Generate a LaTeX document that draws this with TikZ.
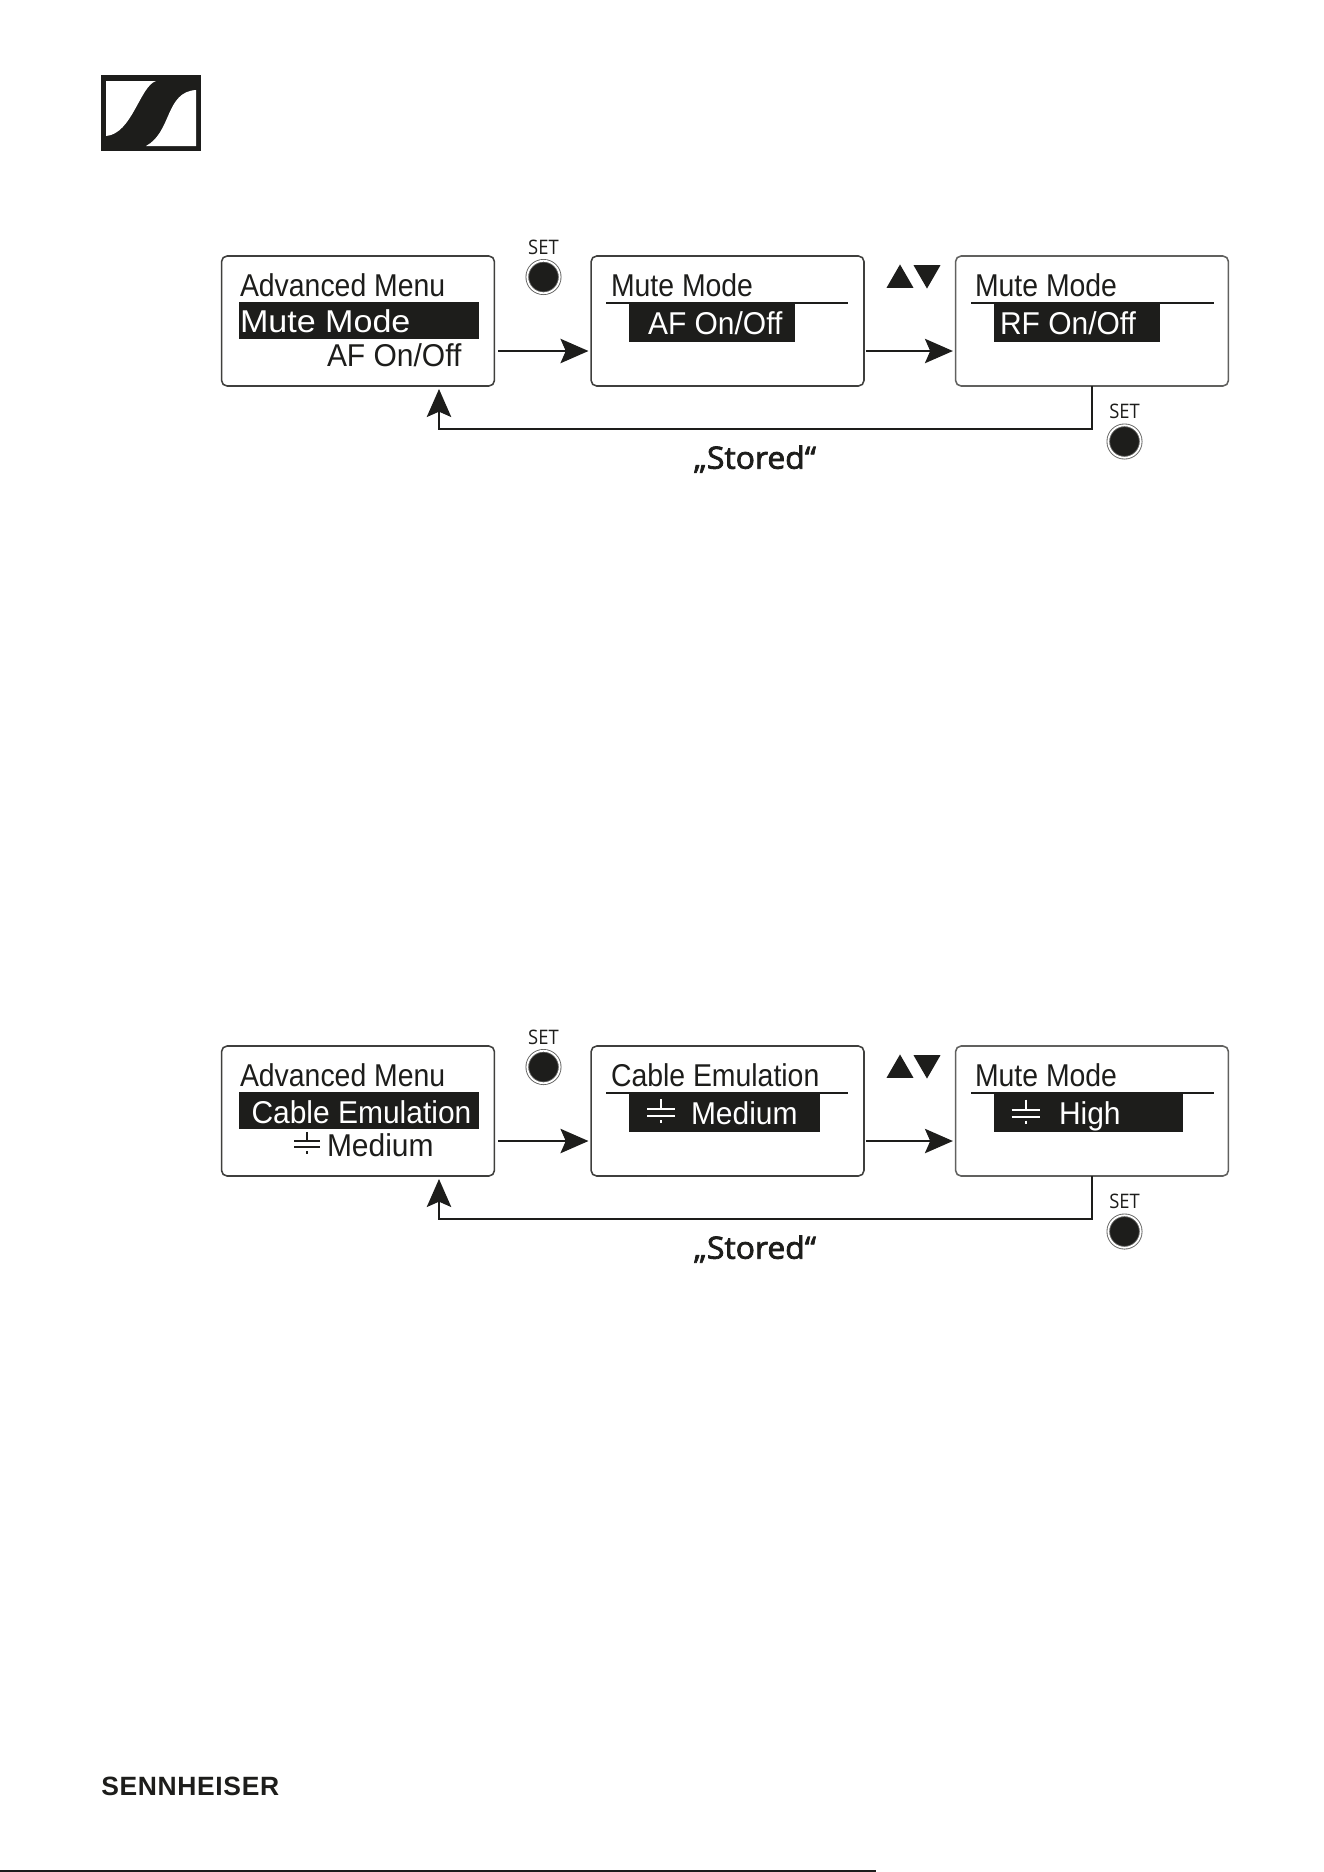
\documentclass[tikz,border=0pt]{standalone}
\usepackage{fontspec}
\usetikzlibrary{arrows.meta,shapes.geometric}
\newfontfamily\lcdfont[FakeStretch=0.90]{Liberation Sans}
\newfontfamily\lcdplain[FakeStretch=0.95]{Liberation Sans}
\newfontfamily\lcdwide[FakeStretch=1.08]{Liberation Sans}
\newfontfamily\capfont[FakeStretch=0.92]{Open Sans}
\newfontfamily\savedfont[FakeBold=2.5,FakeStretch=1.04]{Open Sans}
\newfontfamily\brandfont[LetterSpace=2.5]{Liberation Sans}
\definecolor{ink}{HTML}{1D1D1B}
\tikzset{
  screen/.style={draw=ink!85,rounded corners=2.5pt,line width=0.7pt,fill=white,
    minimum width=122.8pt,minimum height=58.5pt,inner sep=0pt,outer sep=0pt},
  label/.style={anchor=base west,inner sep=0pt,outer sep=0pt,text=ink,
    font=\fontsize{14.2}{16}\lcdfont},
  bar/.style={fill=ink,inner sep=0pt,outer sep=0pt},
  rule/.style={fill=ink,inner sep=0pt,outer sep=0pt,minimum height=0.8pt,minimum width=109.3pt},
  setknob/.style={circle,draw=ink!70,double=white,line width=0.4pt,double distance=0.8pt,
    fill=ink,minimum size=14.6pt,inner sep=0pt},
  setlabel/.style={inner sep=0pt,text=ink,font=\fontsize{9}{10}\capfont},
  updown/.style={regular polygon,regular polygon sides=3,fill=ink,minimum size=14pt,
    inner sep=0pt,outer sep=0pt},
  saved/.style={inner sep=0pt,text=ink,font=\fontsize{13.8}{15}\savedfont},
  capsym/.pic={
    \draw[line width=0.9pt] (-14,-3.5) -- (14,-3.5) (-14,3.5) -- (14,3.5)
      (0,-13.5) -- (0,-3.5) (0,3.5) -- (0,13.5);
  }
}
\begin{document}
\begin{tikzpicture}[x=0.45pt,y=-0.45pt,>={Stealth[length=12.6pt,width=11pt,inset=2.4pt]},
  line width=0.7pt,draw=ink,shorten >=1.2pt,shorten <=1.8pt,node distance=166.3pt]

\useasboundingbox (0,0) rectangle (1324,1872);

\fill[ink] (101,75) rectangle (201,151);
\fill[white] (106,81) -- (156,81) .. controls (140,86) and (132,134) .. (106,136) -- cycle;
\fill[white] (196,90) .. controls (165,92) and (172,132) .. (146,146) -- (196,146) -- cycle;

\node[screen] (box_1) at (358,321) {};
\node[screen] (box_2) [right of=box_1] {};
\node[screen,draw=ink!70] (box_3) [right of=box_2,node distance=164pt] {};
\node[screen] (box_4) [below of=box_1,node distance=355.5pt] {};
\node[screen] (box_5) [right of=box_4] {};
\node[screen,draw=ink!70] (box_6) [right of=box_5,node distance=164pt] {};

\node[bar,minimum width=108pt,minimum height=16.7pt] (bar_1) at (359,320.5) {};
\node[bar,minimum width=74.7pt,minimum height=17.6pt] (bar_2) at (712,322.5) {};
\node[bar,minimum width=74.7pt,minimum height=17.6pt] (bar_3) at (1077,322.5) {};
\node[bar,minimum width=108pt,minimum height=16.7pt] (bar_4) at (359,1110.5) {};
\node[bar,minimum width=86pt,minimum height=17.6pt] (bar_5) at (724.5,1112.5) {};
\node[bar,minimum width=85pt,minimum height=17.6pt] (bar_6) at (1088.5,1112.5) {};

\node[rule] (rule_2) at (727,303) {};
\node[rule] (rule_3) at (1092.5,303) {};
\node[rule] (rule_5) at (727,1093) {};
\node[rule] (rule_6) at (1092.5,1093) {};

\node[label] (head_1) at (240,296) {Advanced Menu};
\node[label,text=white,font=\fontsize{14.2}{16}\lcdwide] (item_1) at (240,332) {Mute Mode};
\node[label,font=\fontsize{14.2}{16}\lcdplain] (value_1) at (327,366) {AF On/Off};
\node[label] (head_2) at (611,296) {Mute Mode};
\node[label,text=white,font=\fontsize{14.2}{16}\lcdplain] (value_2) at (648,334) {AF On/Off};
\node[label] (head_3) at (975,296) {Mute Mode};
\node[label,text=white,font=\fontsize{14.2}{16}\lcdplain] (value_3) at (1000,334) {RF On/Off};

\node[label] (head_4) at (240,1086) {Advanced Menu};
\node[label,text=white,font=\fontsize{14.2}{16}\lcdplain] (item_4) at (251.5,1123) {Cable Emulation};
\node[label,font=\fontsize{14.2}{16}\lcdplain] (value_4) at (327,1156) {Medium};
\node[label] (head_5) at (611,1086) {Cable Emulation};
\node[label,text=white,font=\fontsize{14.2}{16}\lcdplain] (value_5) at (691,1124) {Medium};
\node[label] (head_6) at (975,1086) {Mute Mode};
\node[label,text=white,font=\fontsize{14.2}{16}\lcdplain] (value_6) at (1059,1124) {High};

\pic[ink,scale=0.9] at (307,1144) {capsym};
\pic[white] at (661,1112.5) {capsym};
\pic[white] at (1025.5,1113) {capsym};

\node[setlabel] (set_1) at (543.5,247) {SET};
\node[setknob] (knob_1) at (543.5,277) {};
\node[setlabel] (set_2) at (1124.5,411) {SET};
\node[setknob] (knob_2) at (1124.5,441.5) {};
\node[setlabel] (set_3) at (543.5,1037) {SET};
\node[setknob] (knob_3) at (543.5,1067) {};
\node[setlabel] (set_4) at (1124.5,1201) {SET};
\node[setknob] (knob_4) at (1124.5,1231.5) {};

\node[updown] (up_1) at (900,280) {};
\node[updown,shape border rotate=180] (down_1) at (927,273) {};
\node[updown] (up_2) at (900,1070) {};
\node[updown,shape border rotate=180] (down_2) at (927,1063) {};

\node[saved] (stored_1) at (755,459) {„Stored“};
\node[saved] (stored_2) at (755,1249) {„Stored“};

\coordinate (turn_1) at (439,429);
\coordinate (back_1) at (439,389);
\coordinate (turn_2) at (439,1219);
\coordinate (back_2) at (439,1179);

\path[->] ([yshift=-13.5pt]box_1.east) edge ([yshift=-13.5pt]box_2.west)
  ([yshift=-13.5pt,xshift=-1pt]box_2.east) edge ([yshift=-13.5pt]box_3.west)
  ([yshift=-13.5pt]box_4.east) edge ([yshift=-13.5pt]box_5.west)
  ([yshift=-13.5pt,xshift=-1pt]box_5.east) edge ([yshift=-13.5pt]box_6.west);
\draw[->,shorten <=0pt,shorten >=0pt] (box_3.south) |- (turn_1) -- (back_1);
\draw[->,shorten <=0pt,shorten >=0pt] (box_6.south) |- (turn_2) -- (back_2);

\node[anchor=base west,inner sep=0pt,text=ink,font=\fontsize{11.9}{14}\brandfont\bfseries] (brand) at (100.5,1795) {SENNHEISER};
\fill[ink] (0,1870) rectangle (876,1872);

\end{tikzpicture}
\end{document}
